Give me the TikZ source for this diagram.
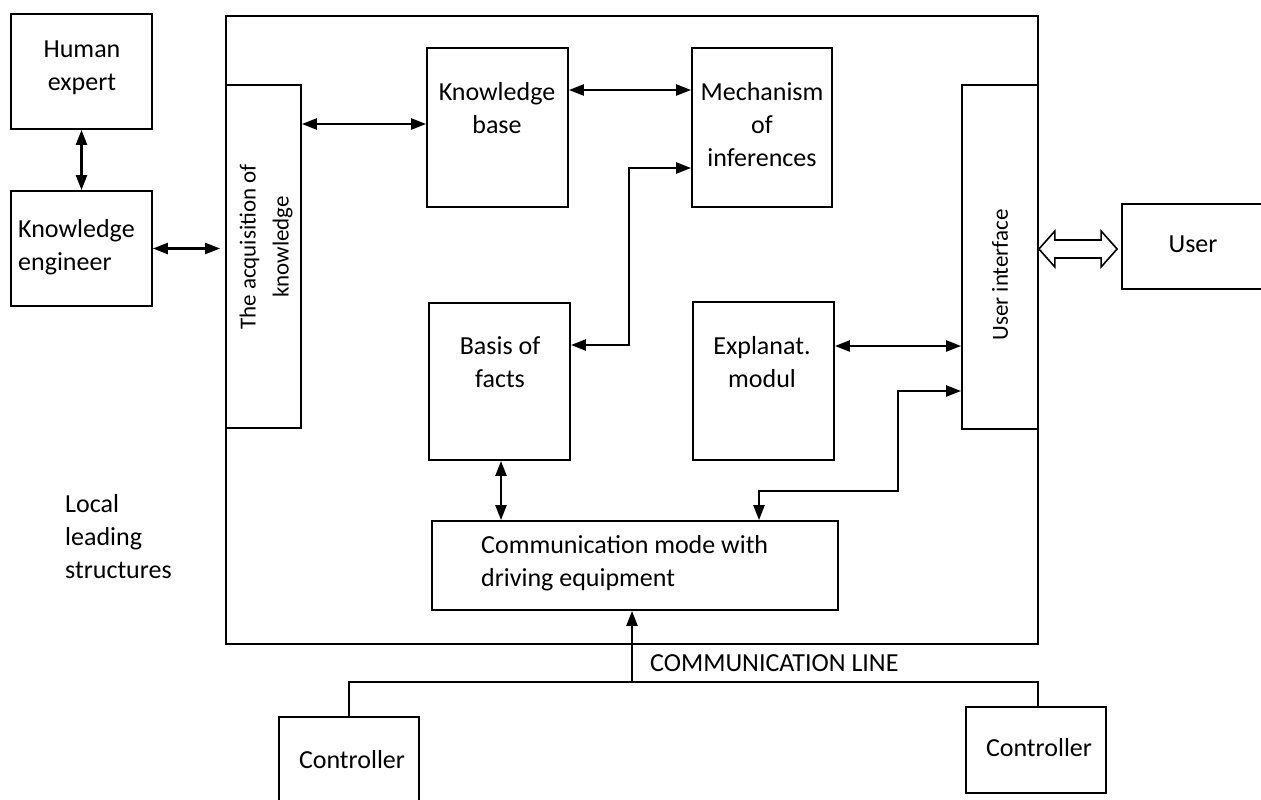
\documentclass[tikz,border=0pt]{standalone}
\usepackage{fontspec}
\setmainfont{Carlito}
\usetikzlibrary{arrows.meta,fit,calc}
\tikzset{
  box/.style={draw, line width=1.8pt, inner sep=0pt},
  txt/.style={font=\fontsize{26}{33}\selectfont, align=center, inner sep=0pt},
  rtxt/.style={font=\fontsize{23}{33}\selectfont, align=center, inner sep=0pt, rotate=90},
  arr/.style={line width=2.3pt, {Triangle[length=15pt,width=11pt]}-{Triangle[length=15pt,width=11pt]}},
  sarr/.style={line width=2.3pt, -{Triangle[length=15pt,width=11pt]}},
  cline/.style={line width=1.8pt},
}
\begin{document}
\begin{tikzpicture}[x=1pt,y=-1pt]
\clip (0,0) rectangle (1261,800);
% boxes
\node[box, fit={(226,16) (1038,644)}] (outer) {};
\node[box, fit={(11,14) (152,129)}] (he) {};
\node[box, fit={(11,191) (152,306)}] (ke) {};
\node[box, fill=white, fit={(226,85) (301,428)}] (acq) {};
\node[box, fit={(427,48) (568,207)}] (kb) {};
\node[box, fit={(692,48) (832,207)}] (mech) {};
\node[box, fit={(429,303) (570,460)}] (bf) {};
\node[box, fit={(693,302) (834,460)}] (em) {};
\node[box, fill=white, fit={(962,85) (1038,429)}] (ui) {};
\node[box, fit={(1122,204) (1320,289)}] (user) {};
\node[box, fit={(432,521) (838,610)}] (comm) {};
\node[box, fit={(279,717) (419,860)}] (c1) {};
\node[box, fit={(966,707) (1106,793)}] (c2) {};
% texts
\node[txt] (the) at (82,68) {Human\\expert};
\node[txt, align=left, anchor=west] (tke) at (18,247) {Knowledge\\engineer};
\node[txt] (tkb) at (497,108) {Knowledge\\base};
\node[txt] (tmech) at (762,125) {Mechanism\\of\\inferences};
\node[txt] (tbf) at (500,362) {Basis of\\facts};
\node[txt] (tem) at (762,362) {Explanat.\\modul};
\node[txt, align=left, anchor=west] (tcomm) at (481,563) {Communication mode with\\driving equipment};
\node[txt] (tuser) at (1193,244) {User};
\node[rtxt] (tacq) at (266,247) {The acquisition of\\knowledge};
\node[rtxt] (tui) at (1000,275) {User interface};
\node[txt, align=left, anchor=west] (tloc) at (65,537) {Local\\leading\\structures};
\node[txt, anchor=west] (tcl) at (650,663) {COMMUNICATION LINE};
\node[txt] (tc1) at (352,760) {Controller};
\node[txt] (tc2) at (1039,748) {Controller};
% connectors
\draw[arr] (he.south) -- (ke.north);
\draw[arr, shorten >=5pt] (ke.east) -- (acq.west |- ke.east);
\draw[arr] (acq.east |- 0,124) -- (kb.west |- 0,124);
\draw[arr] (kb.east |- 0,90) -- (mech.west |- 0,90);
\draw[arr] (bf.east |- 0,345) -| (629,168) -- (mech.west |- 0,168);
\draw[arr] (em.east |- 0,346) -- (ui.west |- 0,346);
\draw[arr] (ui.west |- 0,391) -- (898,391) -- (898,491) -| (comm.north -| 759,0);
\draw[arr] (bf.south -| 501,0) -- (comm.north -| 501,0);
\coordinate (cl1) at (349,682);
\coordinate (cl2) at (1038,682);
\coordinate (clm) at (632,682);
\draw[cline] (c1.north -| cl1) -- (cl1) -- (cl2) -- (c2.north -| cl2);
\draw[sarr] (clm) -- (comm.south -| clm);
% hollow double arrow
\coordinate (ha) at (ui.east |- 0,249);
\coordinate (hb) at ($(user.west |- 0,249)+(-4,0)$);
\draw[line width=1.6pt, fill=white, line join=miter]
  (ha) -- ($(ha)+(16,-18)$) -- ($(ha)+(16,-9)$) -- ($(hb)+(-16,-9)$) -- ($(hb)+(-16,-18)$)
  -- (hb) -- ($(hb)+(-16,18)$) -- ($(hb)+(-16,9)$) -- ($(ha)+(16,9)$) -- ($(ha)+(16,18)$) -- cycle;
\end{tikzpicture}
\end{document}
